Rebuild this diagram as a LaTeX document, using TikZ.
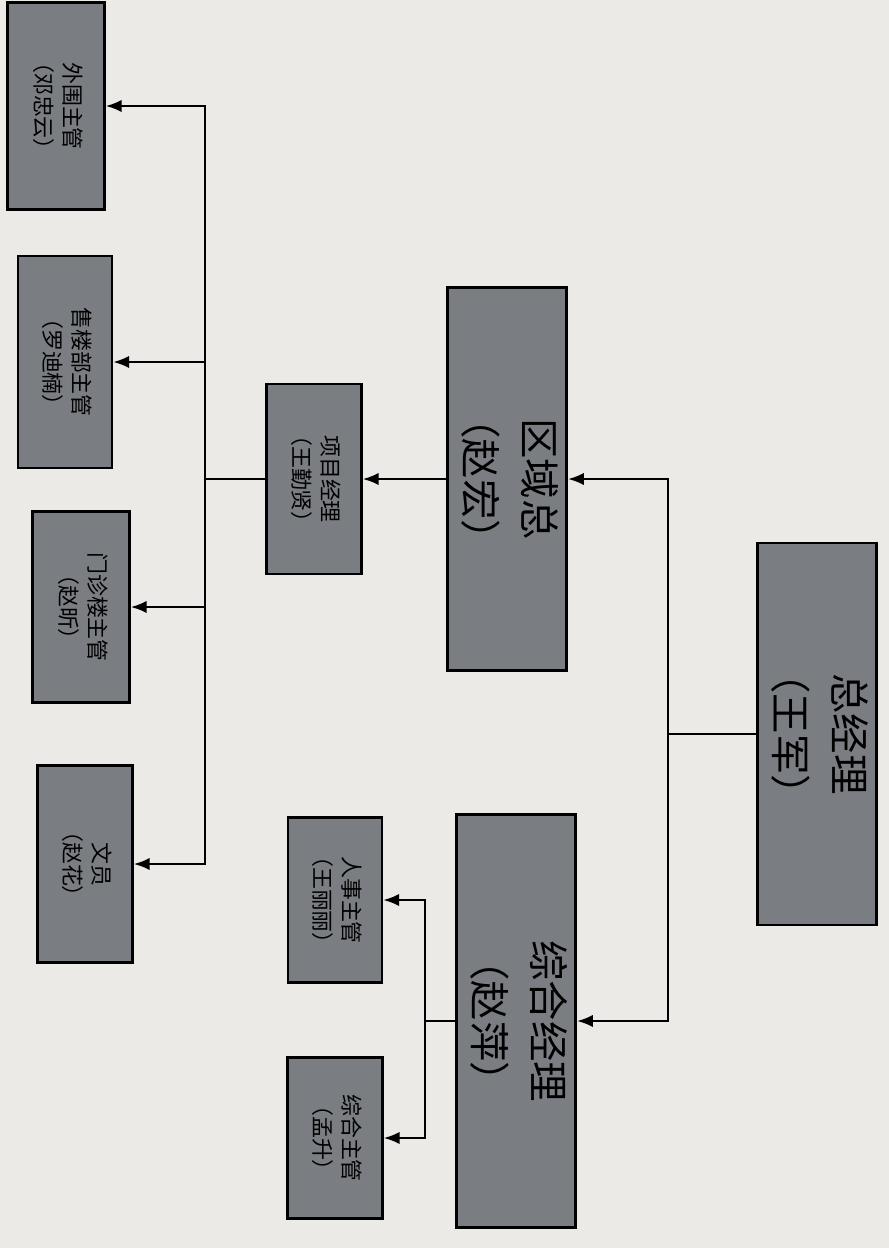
\documentclass[tikz,border=0pt]{standalone}
\usepackage{fontspec}
\usepackage{graphicx}
\usepackage{tikz}
\usetikzlibrary{arrows.meta,positioning,calc}
\newfontfamily\cjk{Noto Sans CJK SC}
\definecolor{paperWhite}{RGB}{236,234,230}
\definecolor{boxGray}{RGB}{122,125,130}
% two rotated lines of text inside a box
\newcommand{\bigtext}[2]{\rotatebox{-90}{\cjk\fontsize{23}{34}\selectfont\begin{tabular}{@{}c@{}}#1\\#2\end{tabular}}}
\newcommand{\smalltext}[2]{\rotatebox{-90}{\cjk\fontsize{12.5}{17}\selectfont\begin{tabular}{@{}c@{}}#1\\#2\end{tabular}}}
\tikzset{
    orgbox/.style={rectangle, draw=black, line width=1.5pt, fill=boxGray, inner sep=0pt},
    arr/.style={-{Latex[length=9pt,width=7pt]}, line width=1.2pt}
}

\begin{document}
\begin{tikzpicture}[x=0.02cm, y=-0.02cm]
    \fill[paperWhite] (0,0) rectangle (889,1248);
    \useasboundingbox (0,0) rectangle (889,1248);

    % Top level
    \node[orgbox, minimum width=2.3cm, minimum height=7.64cm] (zjl) at (817,734) {\bigtext{总经理}{（王军）}};

    % Second level
    \node[orgbox, minimum width=2.3cm, minimum height=7.66cm] (qyz) at (507,479) {\bigtext{区域总}{（赵宏）}};
    \node[orgbox, minimum width=2.26cm, minimum height=8.26cm] (zhjl) at (516,1021) {\bigtext{综合经理}{（赵萍）}};

    % Third level
    \node[orgbox, minimum width=1.9cm, minimum height=3.8cm] (xmjl) at (314,479) {\smalltext{项目经理}{（王勤贤）}};
    \node[orgbox, minimum width=1.88cm, minimum height=3.3cm] (rszg) at (335,900) {\smalltext{人事主管}{（王丽丽）}};
    \node[orgbox, minimum width=1.9cm, minimum height=3.22cm] (zhzg) at (335,1138) {\smalltext{综合主管}{（孟升）}};

    % Fourth level
    \node[orgbox, minimum width=1.94cm, minimum height=4.14cm] (wwzg) at (56,106) {\smalltext{外围主管}{（邓忠云）}};
    \node[orgbox, minimum width=1.88cm, minimum height=4.24cm] (slbzg) at (65,362) {\smalltext{售楼部主管}{（罗迪楠）}};
    \node[orgbox, minimum width=1.94cm, minimum height=3.82cm] (mzlzg) at (81,607) {\smalltext{门诊楼主管}{（赵昕）}};
    \node[orgbox, minimum width=1.9cm, minimum height=3.94cm] (wy) at (85,864) {\smalltext{文员}{（赵花）}};

    % Bus points
    \coordinate (busR) at (668,734);
    \coordinate (busL) at (205,479);
    \coordinate (busZ) at (425,1021);

    % Connectors
    \draw[line width=1.2pt] (zjl.west) -- (busR);
    \draw[arr] (busR) |- (qyz.east);
    \draw[arr] (busR) |- (zhjl.east);

    \draw[arr] (qyz.west) -- (xmjl.east);
    \draw[line width=1.2pt] (xmjl.west) -- (busL);
    \draw[arr] (busL) |- (wwzg.east);
    \draw[arr] (busL) |- (slbzg.east);
    \draw[arr] (busL) |- (mzlzg.east);
    \draw[arr] (busL) |- (wy.east);

    \draw[line width=1.2pt] (zhjl.west) -- (busZ);
    \draw[arr] (busZ) |- (rszg.east);
    \draw[arr] (busZ) |- (zhzg.east);
\end{tikzpicture}
\end{document}
